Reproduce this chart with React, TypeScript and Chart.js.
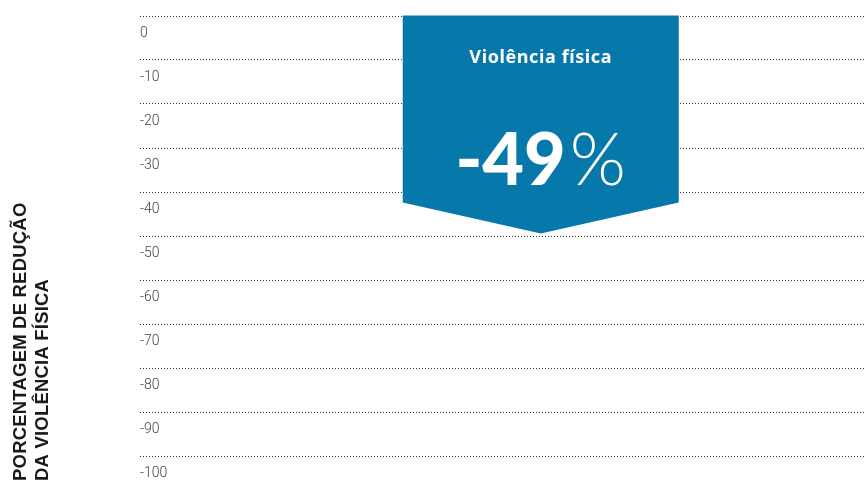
import React, { useEffect, useRef } from "react";
import { Chart, registerables } from "chart.js";

Chart.register(...registerables);

const categories = ["Violência física"];
const barPositions = [0.558];
const values = [-49];
const valueLabels = ["-49"];
const tickValues = [0, -10, -20, -30, -40, -50, -60, -70, -80, -90, -100];
const axisTitleLines = ["PORCENTAGEM DE REDUÇÃO", "DA VIOLÊNCIA FÍSICA"];

const BAR_COLOR = "#0679aa";

const arrowBarPlugin = {
  id: "arrowBar",
  afterDatasetsDraw(chart: any) {
    const ctx = chart.ctx;
    const meta = chart.getDatasetMeta(0);
    meta.data.forEach((el: any, i: number) => {
      const { x, y, base, width } = el.getProps(["x", "y", "base", "width"], true);
      const left = x - width / 2;
      const right = x + width / 2;
      const top = base - 1;
      const sideBottom = y - 29;
      ctx.save();
      ctx.fillStyle = BAR_COLOR;
      ctx.beginPath();
      ctx.moveTo(left, top);
      ctx.lineTo(right, top);
      ctx.lineTo(right, sideBottom);
      ctx.lineTo(x, y + 2);
      ctx.lineTo(left, sideBottom);
      ctx.closePath();
      ctx.fill();

      ctx.fillStyle = "#ffffff";
      ctx.textAlign = "center";
      ctx.textBaseline = "middle";
      ctx.font = "bold 18px 'Noto Sans', sans-serif";
      (ctx as any).letterSpacing = "0.6px";
      ctx.fillText(categories[i], x, top + 42);
      (ctx as any).letterSpacing = "0px";

      const bigFont = "900 72px Lato, Roboto, sans-serif";
      const pctFont = "300 72px Lato, Roboto, sans-serif";
      ctx.font = bigFont;
      const w1 = ctx.measureText(valueLabels[i]).width;
      ctx.font = pctFont;
      const w2 = ctx.measureText("%").width;
      const gap = 4;
      const startX = x - (w1 + gap + w2) / 2;
      ctx.textAlign = "left";
      ctx.textBaseline = "alphabetic";
      ctx.font = bigFont;
      ctx.fillText(valueLabels[i], startX, top + 169);
      ctx.font = pctFont;
      ctx.fillText("%", startX + w1 + gap, top + 169);
      ctx.restore();
    });
  },
};

const axisTitlePlugin = {
  id: "axisTitleCustom",
  afterDraw(chart: any) {
    const ctx = chart.ctx;
    ctx.save();
    ctx.fillStyle = "#1a1a1a";
    ctx.font = "bold 18.5px 'Liberation Sans', Arial, sans-serif";
    ctx.textAlign = "left";
    ctx.textBaseline = "middle";
    const xs = [21, 43];
    axisTitleLines.forEach((line, i) => {
      ctx.save();
      ctx.translate(xs[i], 481);
      ctx.rotate(-Math.PI / 2);
      (ctx as any).letterSpacing = "0.2px";
      ctx.fillText(line, 0, 0);
      ctx.restore();
    });
    ctx.restore();
  },
};

export default function App() {
  const canvasRef = useRef<HTMLCanvasElement | null>(null);

  useEffect(() => {
    if (!canvasRef.current) return;
    const chart = new Chart(canvasRef.current, {
      type: "bar",
      data: {
        datasets: [
          {
            label: categories[0],
            data: barPositions.map((p, i) => ({ x: p, y: values[i] })),
            backgroundColor: "rgba(0,0,0,0)",
            barThickness: 276,
          },
        ],
      },
      options: {
        animation: false,
        responsive: true,
        maintainAspectRatio: false,
        layout: { padding: { top: 16, bottom: 25, left: 0, right: 0 } },
        plugins: {
          legend: { display: false },
          tooltip: { enabled: false },
          title: { display: false },
        },
        scales: {
          x: {
            type: "linear",
            min: 0,
            max: 1,
            display: false,
          },
          y: {
            type: "linear",
            min: -100,
            max: 0,
            afterFit(scale: any) {
              scale.width = 140;
            },
            afterBuildTicks(scale: any) {
              scale.ticks = tickValues.map((v) => ({ value: v }));
            },
            grid: {
              color: "#333333",
              lineWidth: 1,
              drawTicks: false,
            },
            border: { display: false, dash: [1, 2] },
            ticks: {
              mirror: true,
              padding: 0,
              labelOffset: 17,
              color: "#444444",
              font: { family: "Roboto", size: 14, weight: "300" as any },
            },
          },
        },
      },
      plugins: [arrowBarPlugin, axisTitlePlugin],
    });
    return () => chart.destroy();
  }, []);

  return (
    <div style={{ position: "fixed", left: 0, top: 0, width: 865, height: 481, background: "#fff" }}>
      <canvas ref={canvasRef} />
    </div>
  );
}
